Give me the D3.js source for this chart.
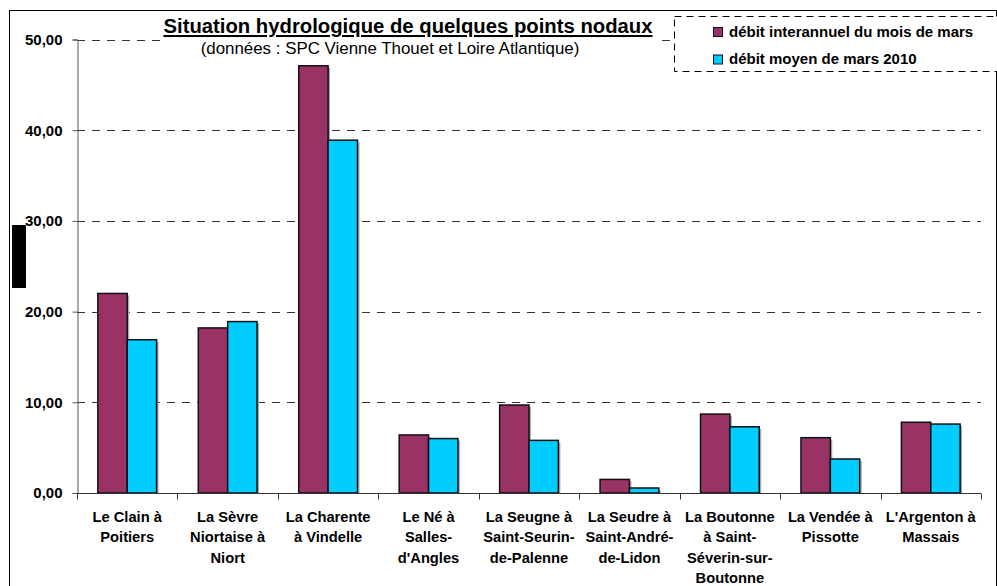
<!DOCTYPE html>
<html>
<head>
<meta charset="utf-8">
<script src="https://cdn.jsdelivr.net/npm/d3@7"></script>
<style>
  body { margin: 0; background: #fff; }
  svg { display: block; font-family: "Liberation Sans", Arial, sans-serif; }
</style>
</head>
<body>
<div id="chart"></div>
<script>
// data
const categories = [
    "Le Clain à\nPoitiers",
    "La Sèvre\nNiortaise à\nNiort",
    "La Charente\nà Vindelle",
    "Le Né à\nSalles-\nd'Angles",
    "La Seugne à\nSaint-Seurin-\nde-Palenne",
    "La Seudre à\nSaint-André-\nde-Lidon",
    "La Boutonne\nà Saint-\nSéverin-sur-\nBoutonne",
    "La Vendée à\nPissotte",
    "L'Argenton à\nMassais"
];
const debitInterannuel = [22.0, 18.2, 47.1, 6.4, 9.7, 1.5, 8.7, 6.1, 7.8];
const debitMars2010 = [16.9, 18.9, 38.9, 6.0, 5.8, 0.55, 7.3, 3.75, 7.6];
const seriesNames = ["débit interannuel du mois de mars", "débit moyen de mars 2010"];
const seriesColors = ["#993366", "#00ccff"];
const yTicks = [0, 10, 20, 30, 40, 50];

const width = 997, height = 586;
const svg = d3.select("#chart").append("svg")
    .attr("width", width)
    .attr("height", height);

// outer chart frame
svg.append("rect")
    .attr("x", 9.5).attr("y", 10.5)
    .attr("width", 987).attr("height", 600)
    .attr("fill", "#fff").attr("stroke", "#000").attr("stroke-width", 1);

const x0 = d3.scaleBand().domain(d3.range(categories.length)).range([77, 981]);
const x1 = d3.scaleBand().domain([0, 1]).range([0, x0.bandwidth()]).paddingOuter(0.71);
const y = d3.scaleLinear().domain([0, 50]).range([493, 39.5]);
const fmt = v => d3.format(".2f")(v).replace(".", ",");

// gridlines
svg.append("g")
    .selectAll("line")
    .data(yTicks.slice(1))
    .join("line")
    .attr("x1", 77).attr("x2", 981)
    .attr("y1", d => Math.round(y(d)) + 0.5)
    .attr("y2", d => Math.round(y(d)) + 0.5)
    .attr("stroke", "#333")
    .attr("stroke-dasharray", "8,7");

// bars (with a little grey shadow like the original)
const groups = svg.append("g")
    .selectAll("g")
    .data(categories.map((c, i) => [debitInterannuel[i], debitMars2010[i]]))
    .join("g")
    .attr("transform", (d, i) => `translate(${x0(i)},0)`);

groups.selectAll("rect.shadow")
    .data(d => d)
    .join("rect")
    .attr("class", "shadow")
    .attr("x", (d, j) => x1(j) + 2)
    .attr("y", d => y(d) + 2)
    .attr("width", x1.bandwidth())
    .attr("height", d => y(0) - y(d) - 2)
    .attr("fill", "#aaa");

groups.selectAll("rect.bar")
    .data(d => d)
    .join("rect")
    .attr("class", "bar")
    .attr("x", (d, j) => x1(j))
    .attr("y", d => y(d))
    .attr("width", x1.bandwidth())
    .attr("height", d => y(0) - y(d))
    .attr("fill", (d, j) => seriesColors[j])
    .attr("stroke", "#111")
    .attr("stroke-width", 1.5);

// y axis
const yAxis = svg.append("g")
    .attr("transform", "translate(77.5,0)")
    .call(d3.axisLeft(y).tickValues(yTicks).tickFormat(fmt).tickSize(5).tickPadding(10));
yAxis.select(".domain").attr("stroke", "#555");
yAxis.selectAll(".tick line").attr("stroke", "#555");
yAxis.selectAll(".tick text")
    .attr("font-family", "Liberation Sans, Arial, sans-serif")
    .attr("font-size", "15px")
    .attr("font-weight", "bold")
    .attr("fill", "#000");

// x axis
const xAxisG = svg.append("g").attr("transform", "translate(0,493.5)");
xAxisG.append("line")
    .attr("x1", 77).attr("x2", 981)
    .attr("stroke", "#333");
xAxisG.selectAll("line.tick")
    .data(d3.range(categories.length + 1))
    .join("line")
    .attr("class", "tick")
    .attr("x1", i => Math.round(i < categories.length ? x0(i) : x0.range()[1]) + 0.5)
    .attr("x2", i => Math.round(i < categories.length ? x0(i) : x0.range()[1]) + 0.5)
    .attr("y1", 0).attr("y2", 6)
    .attr("stroke", "#333");

const xLabels = svg.append("g")
    .selectAll("text")
    .data(categories)
    .join("text")
    .attr("x", (d, i) => x0(i) + x0.bandwidth() / 2)
    .attr("y", 521.5)
    .attr("text-anchor", "middle")
    .attr("font-size", "14.7px")
    .attr("font-weight", "bold");
xLabels.selectAll("tspan")
    .data(d => d.split("\n"))
    .join("tspan")
    .attr("x", function () { return this.parentNode.getAttribute("x"); })
    .attr("dy", (d, k) => k === 0 ? 0 : 20.6)
    .text(d => d);

// rotated axis title that shows as a black block in the original
svg.append("rect")
    .attr("x", 12).attr("y", 225)
    .attr("width", 14).attr("height", 63)
    .attr("fill", "#000");

// title
svg.append("rect")
    .attr("x", 160).attr("y", 18)
    .attr("width", 497).attr("height", 40)
    .attr("fill", "#fff");
svg.append("text")
    .attr("x", 408).attr("y", 33)
    .attr("text-anchor", "middle")
    .attr("font-size", "20.3px")
    .attr("font-weight", "bold")
    .attr("text-decoration", "underline")
    .text("Situation hydrologique de quelques points nodaux");
svg.append("text")
    .attr("x", 390).attr("y", 54)
    .attr("text-anchor", "middle")
    .attr("font-size", "16.9px")
    .text("(données : SPC Vienne Thouet et Loire Atlantique)");

// legend
svg.append("rect")
    .attr("x", 674.5).attr("y", 16.5)
    .attr("width", 340).attr("height", 55)
    .attr("fill", "#fff")
    .attr("stroke", "#000")
    .attr("stroke-dasharray", "7,5");
const legend = svg.append("g")
    .selectAll("g")
    .data(seriesNames)
    .join("g")
    .attr("transform", (d, i) => `translate(713,${27 + i * 27.5})`);
legend.append("rect")
    .attr("x", 0.5).attr("y", 0.5)
    .attr("width", 9).attr("height", 9)
    .attr("fill", (d, i) => seriesColors[i])
    .attr("stroke", "#111");
legend.append("text")
    .attr("x", 16).attr("y", 9.5)
    .attr("font-size", "15px")
    .attr("font-weight", "bold")
    .text(d => d);
</script>
</body>
</html>
